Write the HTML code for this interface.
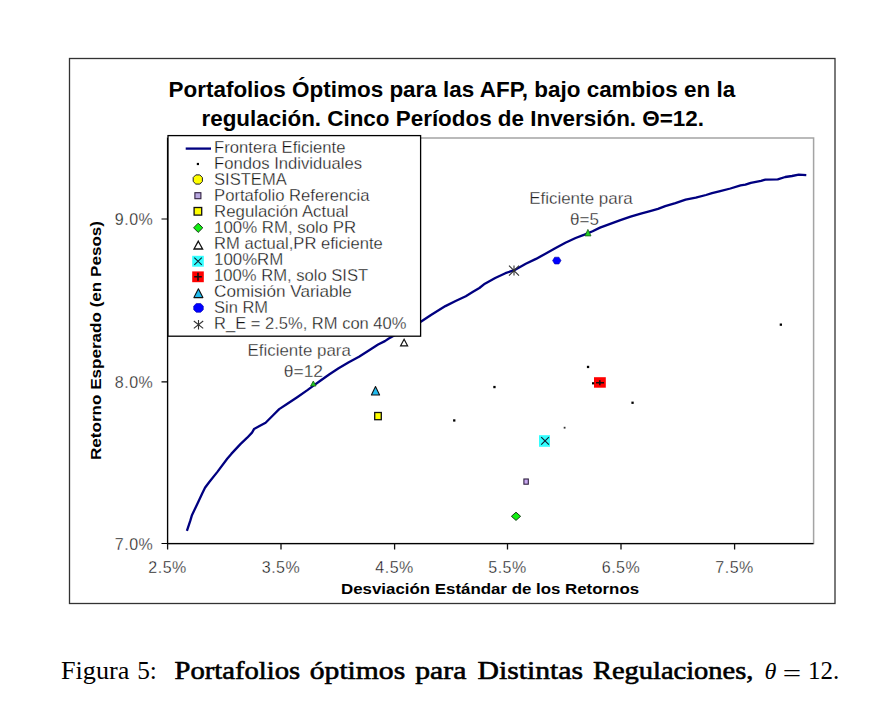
<!DOCTYPE html>
<html><head><meta charset="utf-8">
<style>
html,body{margin:0;padding:0;background:#fff;}
body{width:882px;height:721px;overflow:hidden;position:relative;}
svg{position:absolute;left:0;top:0;}
.s{font-family:"Liberation Sans",Arial,sans-serif;}
.b{font-family:"Liberation Sans",Arial,sans-serif;font-weight:bold;}
.cap{font-family:"Liberation Serif","Times New Roman",serif;}
</style></head>
<body>
<svg width="882" height="721" viewBox="0 0 882 721">
<!-- outer chart border -->
<rect x="69.5" y="58.5" width="765.5" height="545" fill="#fff" stroke="#333" stroke-width="1.3"/>
<!-- title -->
<text id="title1" class="b" x="168.5" y="97" font-size="22.5" fill="#000" textLength="566.7" lengthAdjust="spacingAndGlyphs">Portafolios Óptimos para las AFP, bajo cambios en la</text>
<text id="title2" class="b" x="201.5" y="126" font-size="22.5" fill="#000" textLength="502.5" lengthAdjust="spacingAndGlyphs">regulación. Cinco Períodos de Inversión. Θ=12.</text>
<!-- plot area border -->
<rect x="167.5" y="138" width="646.1" height="405.5" fill="none" stroke="#a4a4a4" stroke-width="1.5"/>
<!-- axes -->
<path d="M167.6 138 V543.6 H813.5" fill="none" stroke="#000" stroke-width="1.2"/>
<!-- y ticks -->
<path d="M161.5 219H167.5M161.5 381.8H167.5M161.5 543.5H167.5" stroke="#000" stroke-width="1.2"/>
<!-- x ticks -->
<path d="M167.6 543.5V549.6M281 543.5V549.6M394.6 543.5V549.6M507.5 543.5V549.6M621 543.5V549.6M734.6 543.5V549.6" stroke="#111" stroke-width="1.3"/>
<!-- y tick labels -->
<g class="s" font-size="16" fill="#111" stroke="#fff" stroke-width="0.3" text-anchor="end" letter-spacing="0.5">
<text x="153.3" y="225">9.0%</text>
<text x="153.3" y="387.5">8.0%</text>
<text x="153.3" y="549.5">7.0%</text>
</g>
<!-- x tick labels -->
<g class="s" font-size="16" fill="#111" stroke="#fff" stroke-width="0.3" text-anchor="middle" letter-spacing="0.5">
<text x="167.6" y="573">2.5%</text>
<text x="281" y="573">3.5%</text>
<text x="394.6" y="573">4.5%</text>
<text x="507.5" y="573">5.5%</text>
<text x="621" y="573">6.5%</text>
<text x="734.6" y="573">7.5%</text>
</g>
<!-- axis titles -->
<text id="xtitle" class="b" x="341" y="594" font-size="15.5" fill="#000" textLength="298.1" lengthAdjust="spacingAndGlyphs">Desviación Estándar de los Retornos</text>
<text id="ytitle" class="b" transform="translate(101 460) rotate(-90)" x="0" y="0" font-size="15.5" fill="#000" textLength="239" lengthAdjust="spacingAndGlyphs">Retorno Esperado (en Pesos)</text>

<!-- frontier -->
<polyline fill="none" stroke="#000080" stroke-width="2.3" stroke-linejoin="round" points="186.9,530.8 190.4,520.4 191.8,515.6 198,502.4 202.2,493.4 205,487.8 209.1,482.3 217.4,471.9 227.2,458.7 231.3,453.9 240.4,444.1 247.2,437.7 252,432.6 254,429.1 259.5,426.1 265.6,422.7 273.1,415.2 279.2,409.1 287,404 297.2,397.2 307.4,390.1 313.5,385.6 321,380.2 329.5,374.2 338.6,368.3 348.8,362.2 359,356.8 369.2,350.3 378.1,344.5 384.9,341.1 388.8,338.5 405,329.5 420.8,321.8 431,315 440.6,309.1 445.4,306.1 455.6,301 465.8,296.2 472.6,292.1 479.4,288 484.9,283.7 495.2,278 505.4,273.2 514.3,270.2 525.8,263.7 536,258.9 545,253.9 555.2,248.2 565.4,242.8 575.6,238 584.5,234.6 592.6,231.2 600,227.6 610.2,223.8 620.4,220.1 630.6,216.7 640.8,213.6 651,210.9 658,208.9 665.2,206.2 675.4,203.1 685.6,199.7 695.8,197.7 706,195 712,193.2 720.2,191.2 730.4,188.5 740.6,185.4 745.4,184.7 750.8,182.8 761,180.8 765.4,179.7 777.7,179.4 785.2,177 792,176 798.8,174.6 806.3,175.1"/>

<!-- fondos individuales dots -->
<g fill="#000">
<rect x="586.9" y="365.8" width="2.3" height="2.3"/>
<rect x="493.3" y="385.9" width="2.3" height="2.3"/>
<rect x="631.4" y="401.6" width="2.3" height="2.3"/>
<rect x="453.1" y="419.3" width="2.3" height="2.3"/>
<rect x="563.7" y="426.8" width="1.8" height="1.8" fill="#333"/>
<rect x="779.7" y="323.5" width="2.3" height="2.3"/>
</g>
<!-- 100% RM solo SIST: red square with + -->
<rect x="594" y="377.2" width="11.8" height="10.5" fill="#f00"/>
<rect x="592" y="382.2" width="2.2" height="2.2" fill="#000"/>
<path d="M596 382.7H604M599.8 380.3V385.2" stroke="#111" stroke-width="1.6"/>
<!-- 100%RM: cyan square with X -->
<rect x="539" y="435.2" width="11" height="11.6" fill="#33ffff"/>
<path d="M541.2 437.1L548.9 444.6M548.9 437.1L541.2 444.6" stroke="#123" stroke-width="1.2"/>
<!-- Portafolio referencia -->
<rect x="523.9" y="479" width="4.4" height="5.2" fill="#c8a8f0" stroke="#302040" stroke-width="1.1"/>
<!-- 100% RM solo PR: green diamond -->
<path d="M516 512.2L520.6 516.3L516 520.4L511.4 516.3Z" fill="#11ee11" stroke="#1a3a1a" stroke-width="1"/>
<!-- Regulacion actual yellow square -->
<rect x="374.7" y="412.5" width="6.6" height="7.2" fill="#ffff00" stroke="#111" stroke-width="1.3"/>
<!-- Comision variable cyan triangle -->
<path d="M375.5 386.6L379.6 395H371.4Z" fill="#22bbee" stroke="#111" stroke-width="1.1" stroke-linejoin="round"/>
<!-- RM actual open triangle -->
<path d="M404.1 339.2L407.6 345.8H400.6Z" fill="none" stroke="#111" stroke-width="1.2"/>
<!-- green triangles on frontier -->
<path d="M313.3 381L316.1 386H310.6Z" fill="#22cc22" stroke="#1a5a1a" stroke-width="0.8"/>
<path d="M587.9 229.4L591 235.9H584.9Z" fill="#22cc22" stroke="#1a5a1a" stroke-width="0.8"/>
<!-- Sin RM blue hexagon -->
<path d="M552.6 260.6L554.7 257.2H558.9L561 260.6L558.9 264H554.7Z" fill="#0000ff" stroke="#0000aa" stroke-width="0.6"/>
<!-- asterisk -->
<path d="M514 265.4V275.6M509 265.6L519 275.6M519 265.6L509 275.6" stroke="#333" stroke-width="1.1"/>

<!-- annotations -->
<g class="s" font-size="16" fill="#222" stroke="#fff" stroke-width="0.3">
<text id="ann1" x="529.2" y="204" textLength="103.6" lengthAdjust="spacingAndGlyphs">Eficiente para</text>
<text id="ann2" x="570.0" y="224.7" textLength="28.9" lengthAdjust="spacingAndGlyphs">θ=5</text>
<text id="ann3" x="247.6" y="355.7" textLength="103.2" lengthAdjust="spacingAndGlyphs">Eficiente para</text>
<text id="ann4" x="283.8" y="376.8" textLength="39.2" lengthAdjust="spacingAndGlyphs">θ=12</text>
</g>

<!-- legend -->
<rect x="168" y="135.6" width="252.6" height="200.6" fill="#fff" stroke="#000" stroke-width="1.3"/>
<line x1="185.7" y1="148.6" x2="211" y2="148.6" stroke="#000080" stroke-width="2.3"/>
<rect x="196.8" y="162.9" width="2.2" height="2.2" fill="#000"/>
<path d="M195.8 174.9H199.8L202.4 177.5V181.5L199.8 184.1H195.8L193.2 181.5V177.5Z" fill="#ffff00" stroke="#222" stroke-width="1"/>
<rect x="194.9" y="192.7" width="6" height="6" fill="#b8a8e0" stroke="#302040" stroke-width="1.1"/>
<rect x="194.1" y="207.5" width="7.6" height="7.6" fill="#ffff00" stroke="#111" stroke-width="1.3"/>
<path d="M198.2 223.2L202.8 227.8L198.2 232.4L193.6 227.8Z" fill="#11ee11" stroke="#1a3a1a" stroke-width="1"/>
<path d="M198.3 241.2L202.6 249H194Z" fill="none" stroke="#111" stroke-width="1.3"/>
<rect x="192.2" y="255.8" width="11.6" height="10.9" fill="#33ffff"/>
<path d="M194.3 257.6L201.8 264.9M201.8 257.6L194.3 264.9" stroke="#123" stroke-width="1.1"/>
<rect x="192.2" y="271.4" width="11.6" height="10.8" fill="#f00"/>
<path d="M198 272.8V280.8M194.2 276.8H201.8" stroke="#111" stroke-width="1.6"/>
<path d="M198.4 288.8L202.9 297.6H193.9Z" fill="#22bbee" stroke="#111" stroke-width="1.1" stroke-linejoin="round"/>
<path d="M196.3 303.5H200.7L203.3 306.1V309.7L200.7 312.3H196.3L193.7 309.7V306.1Z" fill="#0000ff" stroke="#0000aa" stroke-width="0.6"/>
<path d="M198.5 320V329.4M193.8 321L203.2 328.4M203.2 321L193.8 328.4" stroke="#333" stroke-width="1.1"/>
<g class="s" font-size="16" fill="#111" stroke="#fff" stroke-width="0.3">
<text id="leg0" x="214.1" y="152.5" textLength="131.3" lengthAdjust="spacingAndGlyphs">Frontera Eficiente</text>
<text id="leg1" x="214.1" y="168.5" textLength="147.9" lengthAdjust="spacingAndGlyphs">Fondos Individuales</text>
<text id="leg2" x="214.1" y="184.5" textLength="72.6" lengthAdjust="spacingAndGlyphs">SISTEMA</text>
<text id="leg3" x="214.1" y="200.5" textLength="155.4" lengthAdjust="spacingAndGlyphs">Portafolio Referencia</text>
<text id="leg4" x="214.1" y="216.5" textLength="134.5" lengthAdjust="spacingAndGlyphs">Regulación Actual</text>
<text id="leg5" x="214.1" y="232.5" textLength="142.0" lengthAdjust="spacingAndGlyphs">100% RM, solo PR</text>
<text id="leg6" x="214.1" y="248.5" textLength="168.7" lengthAdjust="spacingAndGlyphs">RM actual,PR eficiente</text>
<text id="leg7" x="214.1" y="264.5" textLength="69.2" lengthAdjust="spacingAndGlyphs">100%RM</text>
<text id="leg8" x="214.1" y="280.5" textLength="154.1" lengthAdjust="spacingAndGlyphs">100% RM, solo SIST</text>
<text id="leg9" x="214.1" y="296.5" textLength="137.7" lengthAdjust="spacingAndGlyphs">Comisión Variable</text>
<text id="leg10" x="214.1" y="312.5" textLength="53.9" lengthAdjust="spacingAndGlyphs">Sin RM</text>
<text id="leg11" x="214.1" y="328.5" textLength="192.3" lengthAdjust="spacingAndGlyphs">R_E = 2.5%, RM con 40%</text>
</g>

<!-- caption -->
<g class="cap" font-size="25" fill="#000">
<text id="cap0" x="61.0" y="679" textLength="68.3" lengthAdjust="spacingAndGlyphs">Figura</text>
<text id="cap1" x="137.2" y="679" textLength="19.7" lengthAdjust="spacingAndGlyphs">5:</text>
<text id="cap2" x="174.5" y="679" font-weight="normal" stroke="#000" stroke-width="0.6" textLength="125.6" lengthAdjust="spacingAndGlyphs">Portafolios</text>
<text id="cap3" x="309.8" y="679" font-weight="normal" stroke="#000" stroke-width="0.6" textLength="95.4" lengthAdjust="spacingAndGlyphs">óptimos</text>
<text id="cap4" x="415.3" y="679" font-weight="normal" stroke="#000" stroke-width="0.6" textLength="51.0" lengthAdjust="spacingAndGlyphs">para</text>
<text id="cap5" x="477.6" y="679" font-weight="normal" stroke="#000" stroke-width="0.6" textLength="105.5" lengthAdjust="spacingAndGlyphs">Distintas</text>
<text id="cap6" x="592.9" y="679" font-weight="normal" stroke="#000" stroke-width="0.6" textLength="160.5" lengthAdjust="spacingAndGlyphs">Regulaciones,</text>
<text id="cap7" x="764.5" y="679" font-size="23" font-style="italic" textLength="11.9" lengthAdjust="spacingAndGlyphs">θ</text>
<text id="cap8" x="782.8" y="682" textLength="18.4" lengthAdjust="spacingAndGlyphs">=</text>
<text id="cap9" x="808" y="679" textLength="31.2" lengthAdjust="spacingAndGlyphs">12.</text>
</g>
</svg>
</body></html>
